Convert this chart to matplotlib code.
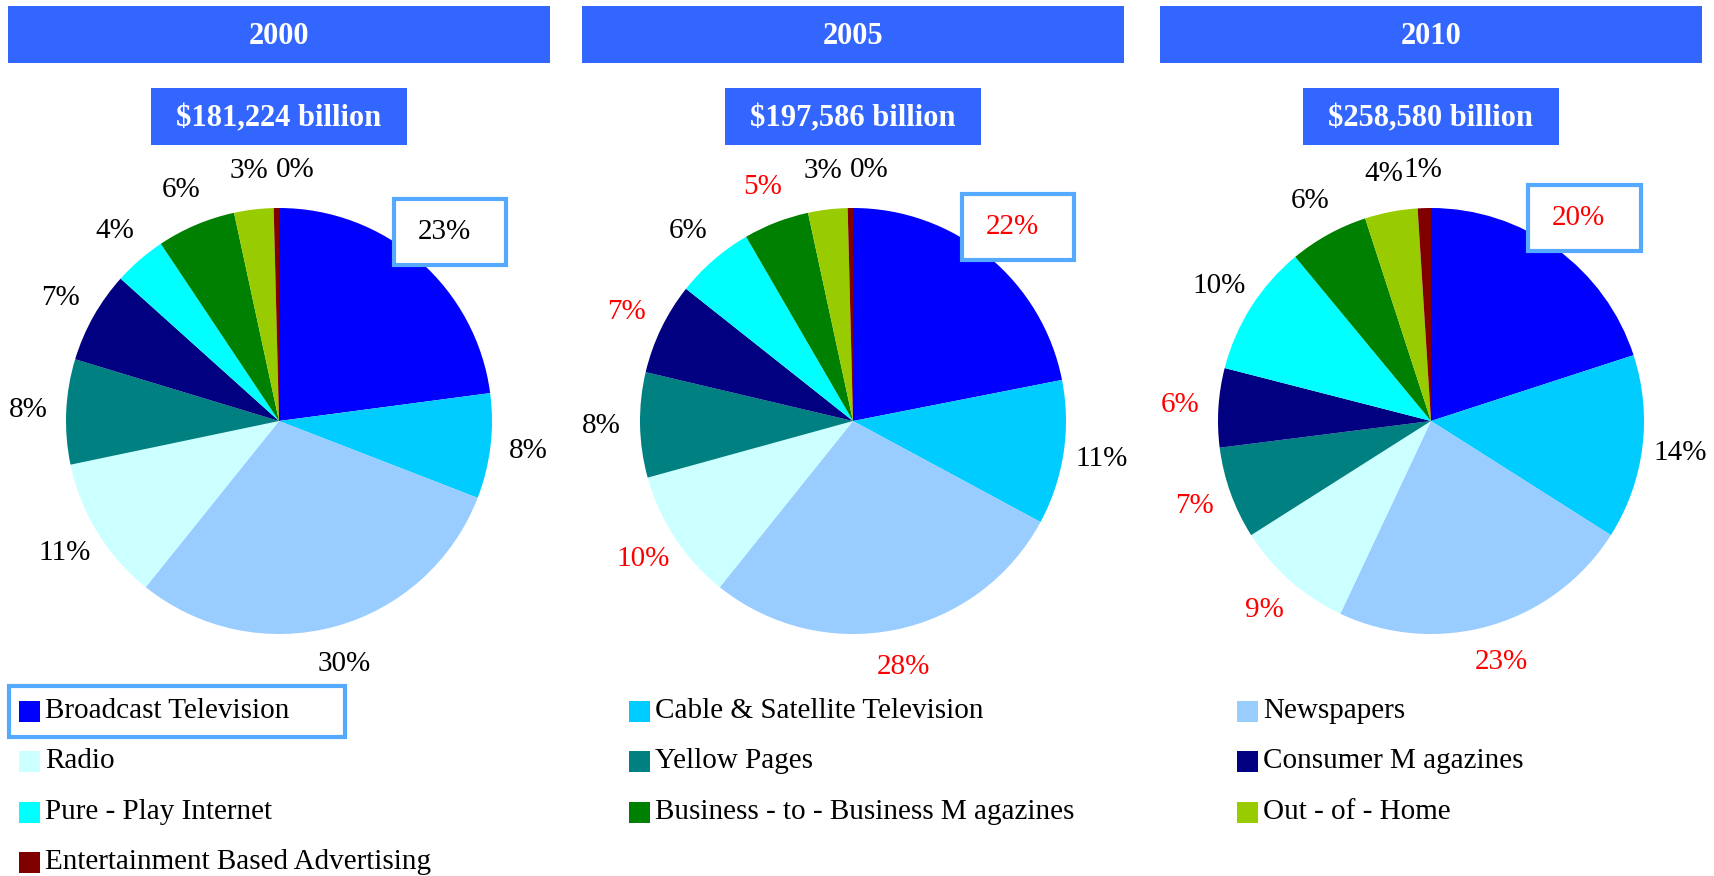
import matplotlib.pyplot as plt
from matplotlib.patches import Rectangle

# Data (percent share by medium)
categories = ['Broadcast Television', 'Cable & Satellite Television', 'Newspapers',
              'Radio', 'Yellow Pages', 'Consumer M agazines',
              'Pure - Play Internet', 'Business - to - Business M agazines', 'Out - of - Home',
              'Entertainment Based Advertising']
years = ['2000', '2005', '2010']
totals = ['$181,224 billion', '$197,586 billion', '$258,580 billion']
share2000 = [23, 8, 30, 11, 8, 7, 4, 6, 3, 0.4]
share2005 = [22, 11, 28, 10, 8, 7, 6, 5, 3, 0.4]
share2010 = [20, 14, 23, 9, 7, 6, 10, 6, 4, 1]
# indices of labels shown in red
red2000 = []
red2005 = [0, 2, 3, 5, 7]
red2010 = [0, 2, 3, 4, 5]

colors = ['#0000FF', '#00CCFF', '#99CCFF', '#CCFFFF', '#008080',
          '#000080', '#00FFFF', '#008000', '#99CC00', '#800000']
headerColor = '#3366FF'
highlightColor = '#55AAFF'
serif = 'Liberation Serif'

W, H = 1715, 876
fig = plt.figure(figsize=(W / 100, H / 100), dpi=100)


def figRect(x, y, w, h):
    # pixel box (from top-left) -> figure fraction [left, bottom, width, height]
    return [x / W, 1 - (y + h) / H, w / W, h / H]


def figBox(x, y, w, h, **kw):
    l, b, ww, hh = figRect(x, y, w, h)
    fig.patches.append(Rectangle((l, b), ww, hh, transform=fig.transFigure, **kw))


pieCenters = [279, 853, 1431]
pieY = 421
radius = 213
shares = [share2000, share2005, share2010]
reds = [red2000, red2005, red2010]

for i in range(3):
    cx = pieCenters[i]
    # year header bar
    figBox(cx - 271, 6, 542, 57, facecolor=headerColor, edgecolor='none')
    fig.text(cx / W, 1 - 37 / H, years[i], color='white', fontsize=22, fontweight='bold',
             family=serif, ha='center', va='center')
    # total box
    figBox(cx - 128, 88, 256, 57, facecolor=headerColor, edgecolor='none')
    fig.text(cx / W, 1 - 119 / H, totals[i], color='white', fontsize=22, fontweight='bold',
             family=serif, ha='center', va='center')

    ax = fig.add_axes(figRect(cx - 1.5 * radius, pieY - 1.5 * radius, 3 * radius, 3 * radius))
    labels = [f"{round(v)}%" for v in shares[i]]
    wedges, texts = ax.pie(shares[i], colors=colors, startangle=90, counterclock=False,
                           radius=1, labels=labels, labeldistance=1.18,
                           wedgeprops=dict(linewidth=0),
                           textprops=dict(fontsize=21, family=serif))
    # pie() resets the limits, so set them afterwards
    ax.set_xlim(-1.5, 1.5)
    ax.set_ylim(-1.5, 1.5)
    ax.axis('off')
    for j, t in enumerate(texts):
        t.set_ha('center')
        t.set_va('center')
        t.set_color('red' if j in reds[i] else 'black')
    # tiny last slice: push its label to the right of the neighbour
    if shares[i][-1] < 0.5:
        texts[-1].set_ha('left')
    # highlight box around the first label
    lx, ly = texts[0].get_position()
    ax.add_patch(Rectangle((lx - 0.24, ly - 0.155), 0.53, 0.31, facecolor='white',
                           edgecolor=highlightColor, linewidth=3, zorder=3, clip_on=False))
    texts[0].set_zorder(4)

# legend laid out row by row, three columns
colX = [19, 629, 1237]
rowY = [711, 761, 812, 862]
for k, name in enumerate(categories):
    x = colX[k % 3]
    y = rowY[k // 3]
    figBox(x, y - 10, 21, 21, facecolor=colors[k], edgecolor='none')
    fig.text((x + 26) / W, 1 - y / H, name, fontsize=21, family=serif,
             ha='left', va='center')

figBox(9, 686, 336, 51, facecolor='none', edgecolor=highlightColor, linewidth=3)

fig.savefig('out.png', dpi=100)
